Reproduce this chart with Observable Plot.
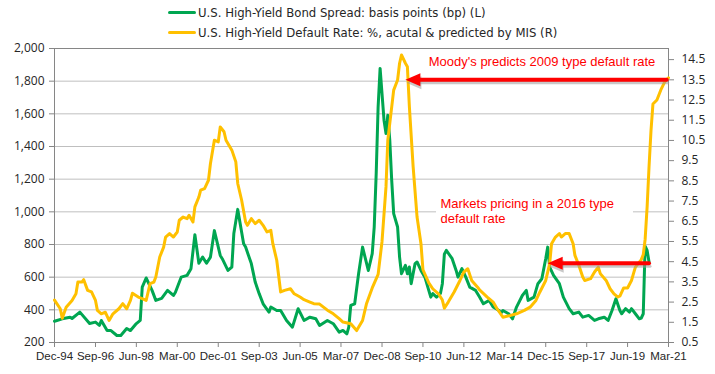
<!DOCTYPE html>
<html>
<head>
<meta charset="utf-8">
<script src="https://cdn.jsdelivr.net/npm/d3@7"></script>
<script src="https://cdn.jsdelivr.net/npm/@observablehq/plot@0.6"></script>
<style>
  body { margin: 0; background: #fff; }
  #legend { position: relative; width: 715px; height: 40px; font-family: "Liberation Sans Narrow", "DejaVu Sans Condensed", sans-serif; font-size: 13px; color: #262626; }
  .item { position: absolute; left: 168px; height: 16px; display: flex; align-items: center; white-space: nowrap; }
  .sw { display: inline-block; width: 28px; height: 3px; margin-right: 2px; border-radius: 1.5px; }
</style>
</head>
<body>
<div id="legend"></div>
<div id="chart"></div>
<script>
// ---- Data ----
const seriesNames = [
  "U.S. High-Yield Bond Spread: basis points (bp) (L)",
  "U.S. High-Yield Default Rate: %, acutal & predicted by MIS (R)"
];
const seriesColors = ["#00A651", "#FFC000"];

const spreadDates = [
  "1994-12","1995-04","1995-08","1995-09",
  "1996-01","1996-06","1996-09","1996-11","1996-12",
  "1997-03","1997-05","1997-08","1997-10",
  "1998-01","1998-03","1998-06","1998-08","1998-09","1998-11",
  "1999-02","1999-04","1999-07","1999-10",
  "2000-01","2000-02","2000-05","2000-08","2000-10","2000-12",
  "2001-02","2001-04","2001-06","2001-08","2001-10",
  "2002-01","2002-02","2002-05","2002-07","2002-08","2002-10",
  "2003-01","2003-02","2003-05","2003-07","2003-09","2003-11",
  "2004-02","2004-03","2004-06","2004-08","2004-11",
  "2005-02","2005-05","2005-08","2005-11",
  "2006-02","2006-04","2006-08","2006-11",
  "2007-02","2007-04","2007-06","2007-07","2007-08","2007-10","2007-12",
  "2008-02","2008-05","2008-07","2008-08","2008-09","2008-10","2008-11",
  "2009-01","2009-02","2009-03","2009-04","2009-05","2009-06","2009-08","2009-09","2009-10","2009-12",
  "2010-01","2010-02","2010-03","2010-05","2010-06","2010-08","2010-10",
  "2011-01","2011-02","2011-04","2011-06","2011-07","2011-08","2011-09","2011-12",
  "2012-02","2012-03","2012-05","2012-07","2012-09","2012-12",
  "2013-02","2013-04","2013-07","2013-09","2013-12",
  "2014-01","2014-02","2014-05","2014-07","2014-09","2014-12",
  "2015-02","2015-03","2015-06","2015-08","2015-10","2015-12",
  "2016-01","2016-02","2016-04","2016-07","2016-09","2016-12",
  "2017-02","2017-05","2017-07","2017-10",
  "2018-01","2018-03","2018-06","2018-08","2018-10","2018-12",
  "2019-02","2019-03","2019-05","2019-07","2019-08","2019-10","2019-12",
  "2020-01","2020-02","2020-03","2020-04","2020-05"
];
const spreadValues = [
  330,345,355,347,
  386,316,325,305,335,
  273,273,243,243,
  286,273,316,335,539,595,
  519,458,470,519,
  488,508,600,611,652,860,
  685,723,685,723,885,
  733,713,641,662,867,1015,
  805,784,683,570,499,437,
  386,417,396,396,335,
  294,407,335,355,
  345,304,335,315,
  263,274,253,294,427,437,621,
  784,641,744,907,1234,1643,1878,
  1561,1480,1592,1439,1194,989,907,723,621,672,
  621,662,560,683,693,641,600,
  478,499,478,500,560,740,764,713,
  641,600,652,600,539,519,
  478,437,458,417,396,
  380,396,376,345,417,488,
  519,458,478,560,590,713,
  784,662,611,560,478,407,
  376,386,355,366,
  335,345,355,335,396,468,
  396,376,407,386,407,376,345,
  350,376,790,764,693
];

const defaultDates = [
  "1994-12","1995-03","1995-04","1995-06","1995-09","1995-11","1995-12",
  "1996-02","1996-03","1996-05","1996-07","1996-09","1996-10","1996-12",
  "1997-02","1997-04","1997-06","1997-09","1997-11",
  "1998-01","1998-03","1998-04","1998-07","1998-09","1998-11",
  "1999-01","1999-03","1999-04","1999-06","1999-08","1999-09","1999-11",
  "2000-01","2000-03","2000-04","2000-06","2000-08","2000-09","2000-11","2000-12",
  "2001-02","2001-03","2001-05","2001-07","2001-08","2001-10","2001-12",
  "2002-01","2002-03","2002-04","2002-07","2002-09","2002-10","2002-12",
  "2003-02","2003-03","2003-05","2003-07","2003-09","2003-11",
  "2004-01","2004-03","2004-04","2004-06","2004-08","2004-10",
  "2005-01","2005-03","2005-06","2005-08","2005-11",
  "2006-01","2006-04","2006-08","2006-11",
  "2007-02","2007-04","2007-08","2007-11",
  "2008-02","2008-04","2008-07","2008-10","2008-12",
  "2009-02","2009-03","2009-06","2009-08","2009-09","2009-10","2009-12",
  "2010-01","2010-02","2010-04","2010-06","2010-08","2010-09","2010-12",
  "2011-02","2011-05","2011-07","2011-08","2011-10",
  "2012-01","2012-04","2012-06","2012-08","2012-10",
  "2013-01","2013-02","2013-06","2013-09","2013-11",
  "2014-02","2014-06","2014-09",
  "2015-01","2015-04","2015-07","2015-09","2015-12",
  "2016-02","2016-03","2016-05","2016-07","2016-08","2016-10","2016-12",
  "2017-02","2017-03","2017-05","2017-07","2017-08","2017-11",
  "2018-01","2018-03","2018-04","2018-07","2018-09","2018-11",
  "2019-01","2019-02","2019-04","2019-06","2019-08","2019-09","2019-10","2019-12",
  "2020-01","2020-02","2020-03","2020-04","2020-05","2020-06","2020-07","2020-09","2020-11",
  "2021-01","2021-03"
];
const defaultRates = [
  2.6,2.17,1.7,2.25,2.58,2.91,3.49,
  3.49,3.61,3.08,3.0,2.58,2.09,1.92,
  2.0,1.59,1.92,2.17,2.42,
  2.17,2.58,2.94,2.75,2.67,2.58,
  3.41,3.49,3.74,4.73,5.22,5.72,5.89,
  5.72,5.97,6.55,6.71,6.63,6.8,6.46,7.21,
  7.7,8.04,8.12,8.53,9.36,10.51,10.43,
  11.17,10.93,10.51,10.02,9.44,8.37,7.54,
  6.46,6.3,6.63,6.38,6.55,6.3,
  5.97,6.05,5.39,4.57,3.0,3.08,
  3.16,2.91,2.75,2.62,2.5,
  2.42,2.4,2.1,1.92,
  1.68,1.51,1.43,1.09,
  1.59,2.4,3.2,3.87,5.5,
  8.2,10.5,12.99,13.49,14.32,14.73,14.32,
  14.15,12.17,9.19,6.71,5.39,4.1,3.45,
  3.16,2.91,2.6,2.2,2.5,
  3.0,3.57,3.99,4.15,3.57,
  3.24,3.1,2.75,2.5,2.17,
  1.75,1.84,1.92,
  2.09,2.25,2.58,3.0,3.57,
  4.4,5.39,5.72,5.89,5.72,5.89,5.89,
  5.39,4.81,4.32,3.74,3.57,3.66,
  3.99,4.23,3.91,3.57,3.16,2.91,
  2.75,2.8,3.2,3.2,3.57,3.91,4.23,4.48,
  4.6,4.85,5.6,7.2,9.2,11.0,12.3,12.5,13.0,
  13.4,13.6
];

const xTickDates = ["1994-12","1996-09","1998-06","2000-03","2001-12","2003-09","2005-06",
  "2007-03","2008-12","2010-09","2012-06","2014-03","2015-12","2017-09","2019-06","2021-03"];
const leftTicks = [200,400,600,800,1000,1200,1400,1600,1800,2000];
const rightTicks = [0.5,1.5,2.5,3.5,4.5,5.5,6.5,7.5,8.5,9.5,10.5,11.5,12.5,13.5,14.5];
const rightDomain = [0.5, 15.05];

// annotations
const arrowFrom = ["2021-02","2020-05"];
const arrowTo = ["2009-12","2016-01"];
const arrowRate = [13.5, 4.42];
const noteTexts = ["Moody's predicts 2009 type default rate", "Markets pricing in a 2016 type\ndefault rate"];
const noteDates = ["2010-12","2011-06"];
const noteSpread = [1920, 1005];
const noteBoxFrom = ["2011-04"];
const noteBoxTo = ["2019-09"];
const noteBoxSpread = [[896, 1111]];

// ---- Legend ----
const legend = document.getElementById("legend");
seriesNames.forEach((name, i) => {
  const it = document.createElement("div");
  it.className = "item";
  it.style.top = (4 + i * 20) + "px";
  const sw = document.createElement("span");
  sw.className = "sw";
  sw.style.background = seriesColors[i];
  it.appendChild(sw);
  it.appendChild(document.createTextNode(name));
  legend.appendChild(it);
});

// ---- Chart ----
const parse = d3.utcParse("%Y-%m");
const LMIN = leftTicks[0], LMAX = leftTicks[leftTicks.length - 1];
const toLeft = r => LMIN + (r - rightDomain[0]) * (LMAX - LMIN) / (rightDomain[1] - rightDomain[0]);
const fromLeft = v => rightDomain[0] + (v - LMIN) * (rightDomain[1] - rightDomain[0]) / (LMAX - LMIN);

const spread = spreadDates.map((d, i) => ({date: parse(d), value: spreadValues[i]}));
const rate = defaultDates.map((d, i) => ({date: parse(d), value: toLeft(defaultRates[i])}));
const arrows = arrowFrom.map((d, i) => ({from: parse(d), to: parse(arrowTo[i]), y: toLeft(arrowRate[i])}));
const notes = noteTexts.map((t, i) => ({text: t, date: parse(noteDates[i]), value: noteSpread[i]}));
const boxes = noteBoxFrom.map((d, i) => ({x1: parse(d), x2: parse(noteBoxTo[i]), y1: noteBoxSpread[i][0], y2: noteBoxSpread[i][1]}));

const arrowHead = {draw(ctx) { ctx.moveTo(0, 0); ctx.lineTo(15, -6.5); ctx.lineTo(15, 6.5); ctx.closePath(); }};
const red = "#FF0000";
const axisFont = "'Open Sans', 'DejaVu Sans', sans-serif";
const tickFont = "'Liberation Sans', Arial, sans-serif";

const chart = Plot.plot({
  width: 715,
  height: 334,
  marginTop: 8,
  marginBottom: 32,
  marginLeft: 54,
  marginRight: 47,
  style: {background: "white", overflow: "visible"},
  x: {type: "utc", domain: [parse(xTickDates[0]), parse(xTickDates[xTickDates.length - 1])]},
  y: {domain: [LMIN, LMAX]},
  marks: [
    Plot.gridY(leftTicks.slice(1, -1), {stroke: "#BFBFBF", strokeOpacity: 1, strokeWidth: 1}),
    Plot.rect(boxes, {x1: "x1", x2: "x2", y1: "y1", y2: "y2", fill: "white"}),
    Plot.frame({stroke: "#868686"}),
    Plot.axisY(leftTicks, {anchor: "left", label: null, tickSize: 5, tickPadding: 5,
      tickFormat: d3.format(","), stroke: "#868686", fill: "#262626", fontSize: 12, fontFamily: axisFont}),
    Plot.axisY(rightTicks.map(toLeft), {anchor: "right", label: null, tickSize: 5, tickPadding: 8,
      tickFormat: d => fromLeft(d).toFixed(1), stroke: "#868686", fill: "#262626", fontSize: 12, fontFamily: axisFont}),
    Plot.axisX(xTickDates.map(parse), {anchor: "bottom", label: null, tickSize: 5, tickPadding: 4,
      tickFormat: d3.utcFormat("%b-%y"), stroke: "#868686", fill: "#262626", fontSize: 11.5, fontFamily: tickFont}),
    Plot.line(spread, {x: "date", y: "value", stroke: seriesColors[0], strokeWidth: 3, strokeLinejoin: "round", strokeLinecap: "round"}),
    Plot.line(rate, {x: "date", y: "value", stroke: seriesColors[1], strokeWidth: 3, strokeLinejoin: "round", strokeLinecap: "round"}),
    // arrow shadows
    Plot.arrow(arrows, {x1: "from", y1: "y", x2: "to", y2: "y", headLength: 0, insetEnd: 12,
      stroke: "#9a9a9a", strokeOpacity: 0.55, strokeWidth: 3, dx: 1, dy: 3}),
    Plot.dot(arrows, {x: "to", y: "y", symbol: arrowHead, fill: "#9a9a9a", fillOpacity: 0.55, stroke: "none", dx: 1, dy: 3}),
    // arrows
    Plot.arrow(arrows, {x1: "from", y1: "y", x2: "to", y2: "y", headLength: 0, insetEnd: 12,
      stroke: red, strokeWidth: 4}),
    Plot.dot(arrows, {x: "to", y: "y", symbol: arrowHead, fill: red, stroke: "none"}),
    Plot.text(notes, {x: "date", y: "value", text: "text", textAnchor: "start", lineAnchor: "middle",
      lineHeight: 1.15, fill: red, fontSize: 13, fontFamily: "'Liberation Sans', Arial, sans-serif"})
  ]
});
document.getElementById("chart").appendChild(chart);
</script>
</body>
</html>
